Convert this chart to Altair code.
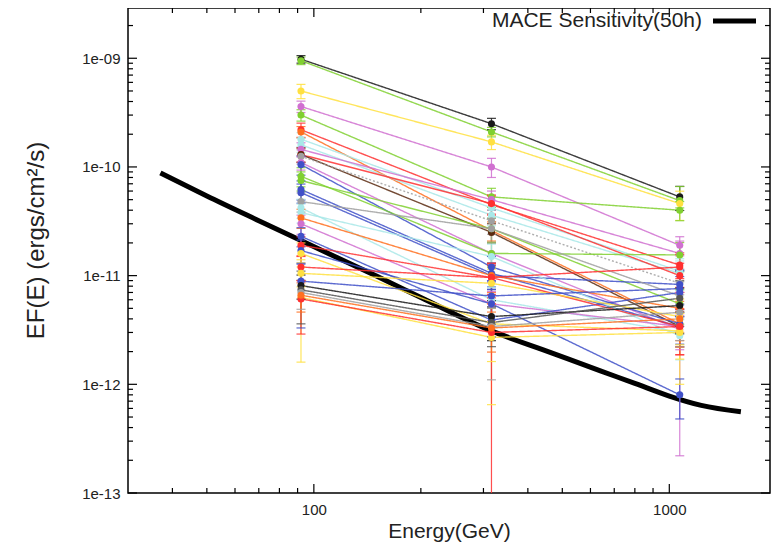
import altair as alt
import pandas as pd

# ---------------- data ----------------
energies = [92, 316, 1070]  # GeV bin centres

series_ids = [f"s{i:02d}" for i in range(1, 38)]
series_colors = [
    "#1a1a1a", "#80d030", "#ffe040", "#d070d0", "#80d030", "#ff3030", "#ff7020",
    "#a8e8e8", "#a8e8e8", "#d070d0", "#ff3030", "#5a2a10", "#a0a0a0", "#d070d0",
    "#4050c8", "#80d030", "#80d030", "#4050c8", "#4050c8", "#a0a0a0", "#a8e8e8",
    "#a8e8e8", "#ff7020", "#d070d0", "#4050c8", "#ff3030", "#4050c8", "#ffe040",
    "#ff3030", "#ffe040", "#4050c8", "#1a1a1a", "#555555", "#a0a0a0", "#ffe040",
    "#ff3030", "#ff7020",
]
series_dash = ["solid"] * 37
series_dash[12] = "dotted"

flux_92 = [9.8e-10, 9.5e-10, 5.0e-10, 3.6e-10, 3.0e-10, 2.2e-10, 2.1e-10,
           1.8e-10, 1.6e-10, 1.45e-10, 1.3e-10, 1.3e-10, 1.25e-10, 1.1e-10,
           1.05e-10, 8.2e-11, 7.5e-11, 6.2e-11, 5.8e-11, 4.8e-11, 4.2e-11,
           3.8e-11, 3.4e-11, 3.0e-11, 2.3e-11, 1.9e-11, 1.7e-11, 1.6e-11,
           1.2e-11, 1.05e-11, 8.9e-12, 8.1e-12, 7.4e-12, 7.0e-12, 6.3e-12,
           6.1e-12, 6.6e-12]
flux_316 = [2.5e-10, 2.1e-10, 1.7e-10, 1.0e-10, 5.3e-11, 4.5e-11, 2.6e-11,
            4.2e-11, 3.6e-11, 5.0e-11, 4.6e-11, 2.5e-11, 3.2e-11, 1.6e-11,
            1.2e-11, 1.6e-11, 2.7e-11, 1.05e-11, 1.0e-11, 2.7e-11, 6.0e-12,
            1.5e-11, 1.0e-11, 5.5e-12, 3.9e-12, 9.6e-12, 5.5e-12, 3.6e-12,
            9.6e-12, 8.5e-12, 6.5e-12, 4.2e-12, 3.7e-12, 3.4e-12, 2.7e-12,
            3.0e-12, 3.3e-12]
flux_1070 = [5.3e-11, 4.9e-11, 4.6e-11, 1.9e-11, 4.0e-11, 1.25e-11, 3.6e-12,
             1.1e-11, 1.05e-11, 1.6e-11, 1.0e-11, 3.4e-12, 8.5e-12, 3.2e-12,
             3.6e-12, 1.55e-11, 5.5e-12, 3.4e-12, 8.3e-12, 6.5e-12, 3.0e-12,
             2.8e-12, 5.0e-12, 3.4e-12, 7.0e-12, 1.2e-11, 8.0e-13, 3.1e-12,
             3.4e-12, 4.2e-12, 7.6e-12, 5.3e-12, 6.2e-12, 4.6e-12, 3.0e-12,
             3.4e-12, 4.0e-12]

# relative (symmetric) errors per point
err_92 = [0.08, 0.08, 0.15, 0.12, 0.12, 0.15, 0.12, 0.15, 0.15, 0.15, 0.15,
          0.15, 0.15, 0.15, 0.2, 0.2, 0.2, 0.2, 0.2, 0.2, 0.2, 0.2, 0.2, 0.2,
          0.2, 0.2, 0.25, 0.25, 0.25, 0.25, 0.25, 0.25, 0.25, 0.3, 0.3, 0.3, 0.3]
err_316 = [0.12, 0.1, 0.15, 0.2, 0.2, 0.2, 0.2, 0.2, 0.2, 0.2, 0.2, 0.2, 0.25,
           0.25, 0.25, 0.25, 0.25, 0.25, 0.25, 0.25, 0.3, 0.3, 0.3, 0.3, 0.3,
           0.3, 0.35, 0.35, 0.35, 0.35, 0.35, 0.4, 0.4, 0.4, 0.4, 0.4, 0.4]
err_1070 = [0.25, 0.2, 0.3, 0.2, 0.2, 0.25, 0.3, 0.3, 0.3, 0.3, 0.3, 0.35,
            0.35, 0.35, 0.35, 0.3, 0.35, 0.35, 0.35, 0.35, 0.4, 0.4, 0.4, 0.4,
            0.4, 0.35, 0.4, 0.45, 0.45, 0.45, 0.45, 0.45, 0.45, 0.45, 0.45, 0.45, 0.45]

# large asymmetric error bars: (series index, energy index, low, high)
ovr_series = [34, 35, 33, 27, 23, 34, 20, 30, 32, 35, 1]
ovr_energy = [0, 1, 1, 1, 2, 2, 2, 0, 0, 0, 2]
ovr_low = [1.6e-12, 1e-15, 1.1e-12, 6.5e-13, 2.2e-13, 1.0e-12, 2.2e-12,
           3.3e-12, 3.6e-12, 2.9e-12, 4.2e-11]
ovr_high = [1.4e-11, 5.5e-12, 5.0e-12, 5.0e-12, 7.0e-12, 4.5e-12, 4.0e-12,
            1.3e-11, 1.1e-11, 9.0e-12, 6.6e-11]

# MACE 50 h sensitivity curve
sens_E = [37, 50, 70, 92, 150, 200, 316, 450, 640, 800, 1000, 1230, 1590]
sens_F = [8.8e-11, 5.4e-11, 3.2e-11, 2.1e-11, 9.9e-12, 6.3e-12, 3.1e-12,
          2.03e-12, 1.33e-12, 1.02e-12, 7.8e-13, 6.4e-13, 5.6e-13]

x_major = [100, 1000]
x_minor = [40, 50, 60, 70, 80, 90, 200, 300, 400, 500, 600, 700, 800, 900]
y_major = [1e-13, 1e-12, 1e-11, 1e-10, 1e-9]
y_minor = [m * 10.0 ** e for e in range(-13, -8) for m in range(2, 10)
           if m * 10.0 ** e < 2.9e-9]

# ---------------- build table ----------------
fluxes = [flux_92, flux_316, flux_1070]
errs = [err_92, err_316, err_1070]
rows = []
for i, sid in enumerate(series_ids):
    for j, E in enumerate(energies):
        f = fluxes[j][i]
        e = errs[j][i]
        rows.append(dict(series=sid, E=E, F=f, lo=f * (1 - e), hi=f * (1 + e),
                         dash=series_dash[i], order=j))
df = pd.DataFrame(rows)
for s, j, lo, hi in zip(ovr_series, ovr_energy, ovr_low, ovr_high):
    m = (df.series == series_ids[s]) & (df.order == j)
    df.loc[m, "lo"] = lo
    df.loc[m, "hi"] = hi

sens = pd.DataFrame({"E": sens_E, "F": sens_F})

W, H = 642, 485
xs = alt.Scale(type="log", domain=[30, 1920], nice=False)
ys = alt.Scale(type="log", domain=[1e-13, 2.9e-9], nice=False)
cs = alt.Scale(domain=series_ids, range=series_colors)
ds = alt.Scale(domain=["solid", "dotted"], range=[[1, 0], [2, 2]])

FONT = "Liberation Sans"

xaxis = alt.Axis(
    title="Energy(GeV)", values=x_major, format="d", grid=False,
    ticks=False, domain=False, labelPadding=9, labelFontSize=15,
    labelFont=FONT, labelColor="#222", titleFont=FONT, titleFontSize=21,
    titleFontWeight="normal", titleColor="#222", titlePadding=3)
yaxis = alt.Axis(
    title="EF(E) (ergs/cm²/s)", values=y_major, grid=False, ticks=False,
    domain=False, labelPadding=8, labelFontSize=15, labelFont=FONT,
    labelColor="#222",
    labelExpr="'1e-' + (round(-log(datum.value)/LN10) < 10 ? '0' : '') + round(-log(datum.value)/LN10)",
    titleFont=FONT, titleFontSize=24, titleFontWeight="normal",
    titleColor="#222", titlePadding=33, titleY=232)


def X(field):
    return alt.X(field, scale=xs, axis=xaxis)


def Y(field):
    return alt.Y(field, scale=ys, axis=yaxis)


sens_line = alt.Chart(sens).mark_line(
    color="black", strokeWidth=5, interpolate="monotone", clip=True
).encode(x=X("E:Q"), y=Y("F:Q"))

base = alt.Chart(df)
lines = base.mark_line(strokeWidth=1.4, opacity=0.85).encode(
    x=X("E:Q"), y=Y("F:Q"),
    color=alt.Color("series:N", scale=cs, legend=None),
    strokeDash=alt.StrokeDash("dash:N", scale=ds, legend=None),
    detail="series:N",
    order="order:Q",
)
ebars = base.mark_rule(strokeWidth=1.2, opacity=0.85, clip=True).encode(
    x=X("E:Q"), y=Y("lo:Q"), y2="hi:Q",
    color=alt.Color("series:N", scale=cs, legend=None),
)
cap_lo = base.mark_tick(orient="horizontal", size=9, thickness=1.2,
                        opacity=0.85, clip=True).encode(
    x=X("E:Q"), y=Y("lo:Q"),
    color=alt.Color("series:N", scale=cs, legend=None))
cap_hi = base.mark_tick(orient="horizontal", size=9, thickness=1.2,
                        opacity=0.85, clip=True).encode(
    x=X("E:Q"), y=Y("hi:Q"),
    color=alt.Color("series:N", scale=cs, legend=None))
points = base.mark_circle(size=50, opacity=1).encode(
    x=X("E:Q"), y=Y("F:Q"),
    color=alt.Color("series:N", scale=cs, legend=None))

# inward frame ticks
xmaj = pd.DataFrame({"v": x_major})
xmin = pd.DataFrame({"v": x_minor})
ymaj = pd.DataFrame({"v": y_major})
ymin = pd.DataFrame({"v": y_minor})


def xt(d, ln, top):
    y0, y1 = (0, ln) if top else (H, H - ln)
    return alt.Chart(d).mark_rule(color="black", strokeWidth=1.2).encode(
        x=X("v:Q"), y=alt.value(y0), y2=alt.value(y1))


def yt(d, ln, right):
    x0, x1 = (W, W - ln) if right else (0, ln)
    return alt.Chart(d).mark_rule(color="black", strokeWidth=1.2).encode(
        y=Y("v:Q"), x=alt.value(x0), x2=alt.value(x1))


ticks = [xt(xmaj, 9, False), xt(xmaj, 9, True), xt(xmin, 5, False),
         xt(xmin, 5, True), yt(ymaj, 9, False), yt(ymaj, 9, True),
         yt(ymin, 5, False), yt(ymin, 5, True)]

leg = pd.DataFrame({"label": ["MACE Sensitivity(50h)"]})
leg_text = alt.Chart(leg).mark_text(
    align="right", baseline="middle", font=FONT, fontSize=21, color="#222"
).encode(text="label:N", x=alt.value(574), y=alt.value(13))
leg_line = alt.Chart(leg).mark_rule(color="black", strokeWidth=5).encode(
    x=alt.value(585), x2=alt.value(628), y=alt.value(13))

chart = alt.layer(
    sens_line, lines, ebars, cap_lo, cap_hi, points, *ticks, leg_text, leg_line
).properties(
    width=W, height=H,
    autosize=alt.AutoSizeParams(type="none"),
    padding={"left": 120, "top": 0, "right": 4, "bottom": 54},
    background="white",
).configure_view(stroke="black", strokeWidth=1.5)

chart.save("out.html", embed_options={"renderer": "svg", "actions": False})
